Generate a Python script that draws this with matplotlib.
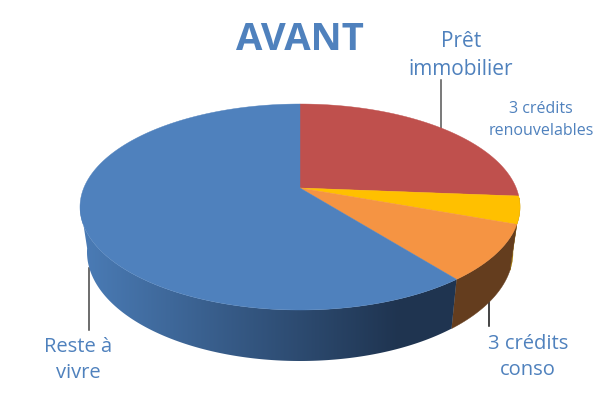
import matplotlib
matplotlib.use('Agg')
import matplotlib.pyplot as plt
from matplotlib.colors import LinearSegmentedColormap
from matplotlib.patches import Polygon
import numpy as np

# parts of the pie, clockwise from 12 o'clock (percent)
labels = ['Prêt\nimmobilier', '3 crédits\nrenouvelables', '3 crédits\nconso', 'Reste à\nvivre']
values = [23.3, 4.4, 9.7, 62.6]
colors = ['#BF504D', '#FFC000', '#F59443', '#4F81BD']
wall_colors = ['#7A2F2D', '#A67C00', '#643D1E', None]

# where the labels and their leader lines go (pixels)
label_pos = [(461, 55.5), (541, 120), (528, 357), (78, 360)]
label_size = [15, 11.5, 14.5, 14.5]
label_space = [1.38, 1.5, 1.38, 1.38]
leaders = [((441, 80), (441, 128)), None, ((489, 302), (489, 326)), ((88.5, 268), (88.5, 330))]
leader_colors = ['#555555', None, '#111111', '#444444']

text_col = '#4F81BD'
plt.rcParams['font.family'] = ['Open Sans', 'DejaVu Sans']

fig = plt.figure(figsize=(6, 4), dpi=100)
ax = fig.add_axes([0, 0, 1, 1])
ax.axis('off')


# top face and bottom rim are ellipses, the apex sits above the centre (perspective)
def top_pt(t):
    return 300 + 220 * np.sin(t), 207 - 103 * np.cos(t)


def bottom_pt(t):
    return 300 + 213 * np.sin(t), 252 - 109 * np.cos(t)


apex = (300, 188)
edges = np.radians(np.cumsum([0] + values) * 3.6)

# walls, only the part that faces us
blue_shade = LinearSegmentedColormap.from_list('wall', ['#4A7BB5', '#1F3450'])
for i, (a, b) in enumerate(zip(edges[:-1], edges[1:])):
    a2, b2 = max(a, np.radians(85)), min(b, np.radians(272))
    if a2 >= b2:
        continue
    tt = np.linspace(a2, b2, 200)
    tx, ty = top_pt(tt)
    bx, by = bottom_pt(tt[::-1])
    pts = list(zip(tx, ty)) + list(zip(bx, by))
    if wall_colors[i] is None:
        # shaded left to right between x=85 and x=400, flat outside that
        pieces = [(np.linspace(0, 1, 256).reshape(1, -1), (85, 400, 400, 0)),
                  (np.ones((1, 2)), (400, 470, 400, 0)),
                  (np.zeros((1, 2)), (70, 85, 400, 0))]
        for grad, ext in pieces:
            poly = Polygon(pts, closed=True, facecolor='none', edgecolor='none')
            ax.add_patch(poly)
            im = ax.imshow(grad, extent=ext, cmap=blue_shade, vmin=0, vmax=1, aspect='auto', zorder=2)
            im.set_clip_path(poly)
    else:
        ax.add_patch(Polygon(pts, closed=True, facecolor=wall_colors[i], edgecolor=wall_colors[i],
                             linewidth=0.3, zorder=2))

ax.set_xlim(0, 600)
ax.set_ylim(400, 0)

# top face
for i, (a, b) in enumerate(zip(edges[:-1], edges[1:])):
    tt = np.linspace(a, b, 200)
    xs, ys = top_pt(tt)
    pts = [apex] + list(zip(xs, ys))
    ax.add_patch(Polygon(pts, closed=True, facecolor=colors[i], edgecolor=colors[i],
                         linewidth=0.3, zorder=3))

# leader lines
for seg, c in zip(leaders, leader_colors):
    if seg is not None:
        ax.plot([seg[0][0], seg[1][0]], [seg[0][1], seg[1][1]], color=c, lw=1.1, zorder=1.5)

# text
ax.text(300, 40.5, 'AVANT', color=text_col, fontsize=27.5, fontweight='bold',
        ha='center', va='center', zorder=5)
for lab, p, s, sp in zip(labels, label_pos, label_size, label_space):
    ax.text(p[0], p[1], lab, color=text_col, fontsize=s, ha='center', va='center',
            linespacing=sp, zorder=5)

plt.savefig('out.png', dpi=100, facecolor='white')
